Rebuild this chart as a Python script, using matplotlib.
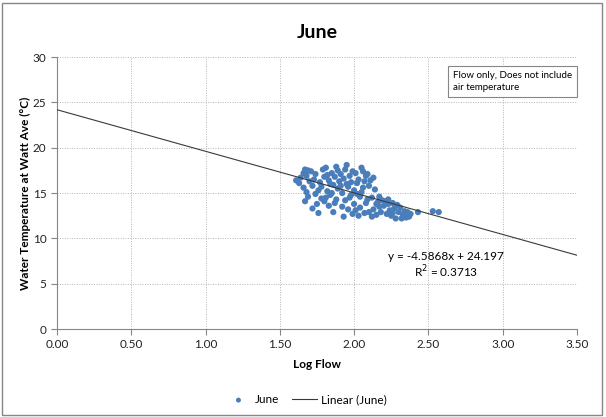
import matplotlib.pyplot as plt
import matplotlib.patches as patches
import numpy as np

# Scatter points (log flow, water temperature)
log_flow = [1.61, 1.63, 1.64, 1.66, 1.67, 1.68, 1.66, 1.68, 1.69, 1.70, 1.67, 1.69,
            1.71, 1.72, 1.73, 1.74, 1.75, 1.76, 1.74, 1.77, 1.78, 1.79, 1.78, 1.72, 1.80, 1.76, 1.80,
            1.81, 1.82, 1.83, 1.84, 1.85, 1.83, 1.86, 1.87, 1.88, 1.86, 1.89, 1.89, 1.82, 1.84, 1.87,
            1.90, 1.85, 1.88, 1.81,
            1.91, 1.92, 1.93, 1.94, 1.95, 1.96, 1.92, 1.97, 1.98, 1.99, 1.94, 1.96, 1.98, 2.00, 1.93,
            1.99, 1.91, 1.97, 2.00, 1.95,
            2.01, 2.02, 2.03, 2.04, 2.05, 2.06, 2.07, 2.08, 2.03, 2.09, 2.05, 2.02, 2.06, 2.08, 2.10,
            2.04, 2.07, 2.01, 2.09, 2.10,
            2.11, 2.12, 2.13, 2.14, 2.15, 2.16, 2.17, 2.13, 2.18, 2.19, 2.15, 2.12, 2.20, 2.17,
            2.21, 2.22, 2.23, 2.24, 2.25, 2.26, 2.27, 2.28, 2.29, 2.30, 2.23, 2.26,
            2.31, 2.33, 2.34, 2.35, 2.36, 2.37, 2.38, 2.32,
            2.43, 2.53, 2.57]
water_temp = [16.4, 16.1, 16.7, 17.2, 17.6, 16.9, 15.6, 15.1, 14.6, 16.3, 14.1, 17.5,
              17.4, 15.8, 16.5, 14.9, 13.8, 15.3, 17.1, 16.2, 14.4, 17.6, 15.7, 13.3, 16.8, 12.8, 14.1,
              17.8, 15.2, 16.4, 14.8, 17.2, 13.6, 15.9, 16.8, 14.3, 12.9, 17.5, 15.5, 17.0, 16.0, 13.9,
              16.3, 15.0, 17.9, 14.5,
              17.1, 15.0, 16.6, 14.2, 18.1, 15.7, 13.5, 16.9, 14.8, 12.7, 17.6, 13.2, 16.2, 15.3, 12.4,
              17.4, 15.8, 14.5, 13.8, 16.0,
              17.2, 14.9, 16.5, 13.4, 17.8, 15.6, 12.8, 16.9, 12.5, 14.3, 15.1, 16.1, 17.4, 13.9, 15.8,
              14.6, 16.3, 13.1, 17.1, 12.9,
              16.4, 14.5, 13.2, 15.4, 12.6, 14.0, 13.5, 16.7, 12.9, 14.2, 13.8, 12.4, 13.6, 14.6,
              14.1, 12.7, 13.8, 13.1, 12.5, 13.9, 13.3, 12.2, 13.7, 12.9, 14.3, 12.8,
              13.4, 12.6, 13.0, 12.3, 12.9, 12.4, 12.7, 12.2,
              12.9, 13.0, 12.9]

# Linear trendline as printed on the chart
slope = -4.5868
intercept = 24.197
r_squared = 0.3713

x_ticks = [0.0, 0.5, 1.0, 1.5, 2.0, 2.5, 3.0, 3.5]
y_ticks = [0, 5, 10, 15, 20, 25, 30]

plt.rcParams['font.family'] = ['Lato', 'DejaVu Sans']

fig = plt.figure(figsize=(6.06, 4.17), dpi=100)
ax = fig.add_axes([0.094, 0.211, 0.858, 0.652])

blue = '#4a7ebb'
grey = '#868686'

ax.scatter(log_flow, water_temp, s=20, color=blue, edgecolors='none', zorder=3, label='June')

xl = np.array([x_ticks[0], x_ticks[-1]])
ax.plot(xl, slope * xl + intercept, color='#3a3a3a', linewidth=0.8, zorder=4, label='Linear (June)')

ax.set_xlim(x_ticks[0], x_ticks[-1])
ax.set_ylim(y_ticks[0], y_ticks[-1])
ax.set_xticks(x_ticks)
ax.set_xticklabels([f'{t:.2f}' for t in x_ticks])
ax.set_yticks(y_ticks)
ax.tick_params(labelsize=8.5, length=4, width=0.8, color=grey, labelcolor='#222222')
ax.grid(True, linestyle=(0, (1, 1.5)), color='#b4b4b4', linewidth=0.7)
ax.set_axisbelow(True)
for side in ['top', 'right']:
    ax.spines[side].set_visible(False)
for side in ['left', 'bottom']:
    ax.spines[side].set_color(grey)
    ax.spines[side].set_linewidth(0.8)

ax.set_title('June', fontsize=14, fontweight='bold', pad=14)
ax.set_xlabel('Log Flow', fontsize=8.5, fontweight='bold', labelpad=6)
ax.set_ylabel('Water Temperature at Watt Ave (°C)', fontsize=8.5, fontweight='bold')
ax.yaxis.set_label_coords(-0.05, 0.5)

ax.text(2.62, 8.0, f'y = {slope}x + {intercept}', fontsize=8.5, ha='center', va='center')
ax.text(2.62, 6.3, f'R$^2$ = {r_squared}', fontsize=8.5, ha='center', va='center')

ax.text(0.761, 0.948, 'Flow only, Does not include\nair temperature', transform=ax.transAxes,
        fontsize=7, ha='left', va='top', linespacing=1.35,
        bbox=dict(boxstyle='square,pad=0.5', facecolor='white', edgecolor=grey, linewidth=0.8),
        zorder=5)

ax.legend(loc='center', bbox_to_anchor=(0.48, -0.26), ncol=2, frameon=False, fontsize=8.5,
          handlelength=2.1, handletextpad=0.35, columnspacing=1.1, markerscale=0.8)

fig.patches.append(patches.Rectangle((0.004, 0.004), 0.99, 0.99, transform=fig.transFigure,
                                     fill=False, edgecolor=grey, linewidth=1))

fig.savefig('out.png', dpi=100)
